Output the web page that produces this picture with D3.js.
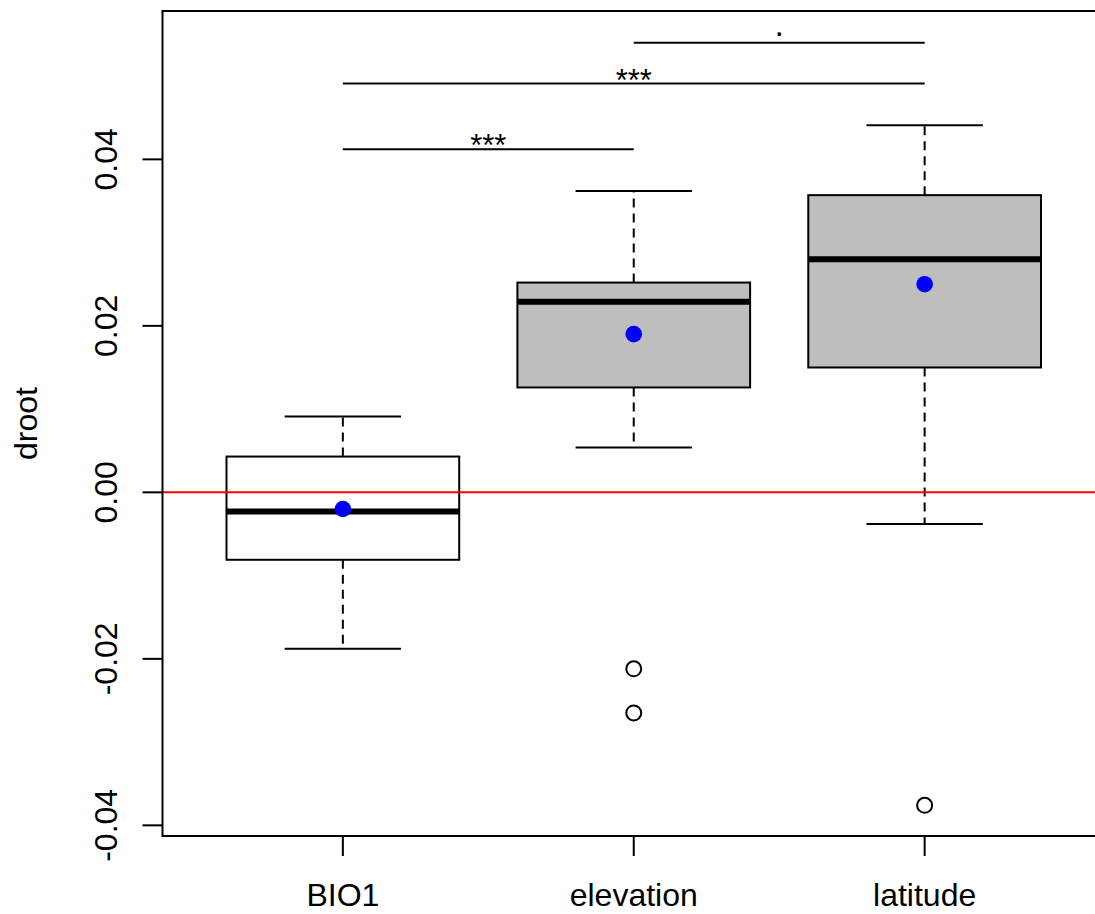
<!DOCTYPE html>
<html>
<head>
<meta charset="utf-8">
<script src="https://cdn.jsdelivr.net/npm/d3@7"></script>
<style>
  body { margin: 0; background: #fff; }
  text { font-family: "Liberation Sans", Arial, Helvetica, sans-serif; fill: #000; }
</style>
</head>
<body>
<div id="chart-area"></div>
<script>
// boxplot of droot per predictor

const categories = ["BIO1", "elevation", "latitude"]
const whiskerLow = [-0.0188, 0.0054, -0.0038]
const q1 = [-0.0081, 0.0126, 0.0150]
const median = [-0.0023, 0.0229, 0.0280]
const q3 = [0.0043, 0.0252, 0.0357]
const whiskerHigh = [0.0091, 0.0362, 0.0441]
const means = [-0.0020, 0.0190, 0.0250]
const outliers = [[], [-0.0212, -0.0265], [-0.0376]]
const yTicks = [-0.04, -0.02, 0.00, 0.02, 0.04]
const refLine = 0

// significance brackets: from group, to group, level, label
const sigFrom = [1, 1, 2]
const sigTo = [2, 3, 3]
const sigLevel = [0.0412, 0.0491, 0.0540]
const sigLabel = ["***", "***", "."]

const W = 1095, H = 914
const PLOT = {LEFT: 162.5, RIGHT: 1105, TOP: 11, BOTTOM: 836}

const svg = d3.select("#chart-area").append("svg")
  .attr("width", W)
  .attr("height", H)

const x = d3.scaleLinear()
  .domain([0.38, 3.62])
  .range([PLOT.LEFT, PLOT.RIGHT])

const y = d3.scaleLinear()
  .domain([-0.04128, 0.05782])
  .range([PLOT.BOTTOM, PLOT.TOP])

const data = categories.map((c, i) => ({
  name: c, pos: i + 1,
  lo: whiskerLow[i], q1: q1[i], med: median[i], q3: q3[i], hi: whiskerHigh[i],
  mean: means[i], out: outliers[i]
}))

const boxes = svg.selectAll("g.box").data(data).enter().append("g")
  .attr("class", "box")

// whiskers (dashed)
boxes.append("line")
  .attr("x1", d => x(d.pos)).attr("x2", d => x(d.pos))
  .attr("y1", d => y(d.q3)).attr("y2", d => y(d.hi))
  .attr("stroke", "#000").attr("stroke-width", 2).attr("stroke-dasharray", "9,6")
boxes.append("line")
  .attr("x1", d => x(d.pos)).attr("x2", d => x(d.pos))
  .attr("y1", d => y(d.q1)).attr("y2", d => y(d.lo))
  .attr("stroke", "#000").attr("stroke-width", 2).attr("stroke-dasharray", "9,6")

// caps
boxes.selectAll("line.cap").data(d => [d.lo, d.hi].map(v => ({pos: d.pos, v}))).enter()
  .append("line")
  .attr("class", "cap")
  .attr("x1", d => x(d.pos - 0.2)).attr("x2", d => x(d.pos + 0.2))
  .attr("y1", d => y(d.v)).attr("y2", d => y(d.v))
  .attr("stroke", "#000").attr("stroke-width", 2)

// box
boxes.append("rect")
  .attr("x", d => x(d.pos - 0.4))
  .attr("width", d => x(d.pos + 0.4) - x(d.pos - 0.4))
  .attr("y", d => y(d.q3))
  .attr("height", d => y(d.q1) - y(d.q3))
  .attr("fill", (d, i) => i === 0 ? "#ffffff" : "#bebebe")
  .attr("stroke", "#000").attr("stroke-width", 2)

// median
boxes.append("line")
  .attr("x1", d => x(d.pos - 0.4)).attr("x2", d => x(d.pos + 0.4))
  .attr("y1", d => y(d.med)).attr("y2", d => y(d.med))
  .attr("stroke", "#000").attr("stroke-width", 6)

// outliers
boxes.selectAll("circle.out").data(d => d.out.map(v => ({pos: d.pos, v}))).enter()
  .append("circle")
  .attr("class", "out")
  .attr("cx", d => x(d.pos)).attr("cy", d => y(d.v))
  .attr("r", 7.5)
  .attr("fill", "none").attr("stroke", "#000").attr("stroke-width", 2)

// reference line at 0
svg.append("line")
  .attr("x1", PLOT.LEFT).attr("x2", PLOT.RIGHT)
  .attr("y1", y(refLine)).attr("y2", y(refLine))
  .attr("stroke", "#ff0000").attr("stroke-width", 2)

// means
svg.selectAll("circle.mean").data(data).enter().append("circle")
  .attr("class", "mean")
  .attr("cx", d => x(d.pos)).attr("cy", d => y(d.mean))
  .attr("r", 8.3)
  .attr("fill", "#0000ff")

// significance brackets
sigLevel.forEach((lv, i) => {
  const mid = (sigFrom[i] + sigTo[i]) / 2
  svg.append("line")
    .attr("x1", x(sigFrom[i])).attr("x2", x(sigTo[i]))
    .attr("y1", y(lv)).attr("y2", y(lv))
    .attr("stroke", "#000").attr("stroke-width", 2)
  svg.append("text")
    .attr("x", x(mid))
    .attr("y", y(lv) + (sigLabel[i] === "." ? -7 : 7))
    .attr("text-anchor", "middle")
    .attr("font-size", sigLabel[i] === "." ? "34px" : "31px")
    .text(sigLabel[i])
})

// frame
svg.append("rect")
  .attr("x", PLOT.LEFT).attr("y", PLOT.TOP)
  .attr("width", PLOT.RIGHT - PLOT.LEFT).attr("height", PLOT.BOTTOM - PLOT.TOP)
  .attr("fill", "none").attr("stroke", "#000").attr("stroke-width", 2)

// y axis
const fmt = d => d3.format(".2f")(d).replace("\u2212", "-")
const yAxis = svg.append("g")
yAxis.selectAll("line").data(yTicks).enter().append("line")
  .attr("x1", PLOT.LEFT - 20).attr("x2", PLOT.LEFT)
  .attr("y1", d => y(d)).attr("y2", d => y(d))
  .attr("stroke", "#000").attr("stroke-width", 2)
yAxis.selectAll("text").data(yTicks).enter().append("text")
  .attr("transform", d => `translate(117, ${y(d)}) rotate(-90)`)
  .attr("text-anchor", "middle")
  .attr("font-size", "32px")
  .text(fmt)

// x axis
const xAxis = svg.append("g")
xAxis.selectAll("line").data(data).enter().append("line")
  .attr("x1", d => x(d.pos)).attr("x2", d => x(d.pos))
  .attr("y1", PLOT.BOTTOM).attr("y2", PLOT.BOTTOM + 20)
  .attr("stroke", "#000").attr("stroke-width", 2)
xAxis.selectAll("text").data(data).enter().append("text")
  .attr("x", d => x(d.pos)).attr("y", 906)
  .attr("text-anchor", "middle")
  .attr("font-size", "32px")
  .text(d => d.name)

// y label
svg.append("text")
  .attr("transform", `translate(37, ${(PLOT.TOP + PLOT.BOTTOM) / 2}) rotate(-90)`)
  .attr("text-anchor", "middle")
  .attr("font-size", "32px")
  .text("droot")
</script>
</body>
</html>
